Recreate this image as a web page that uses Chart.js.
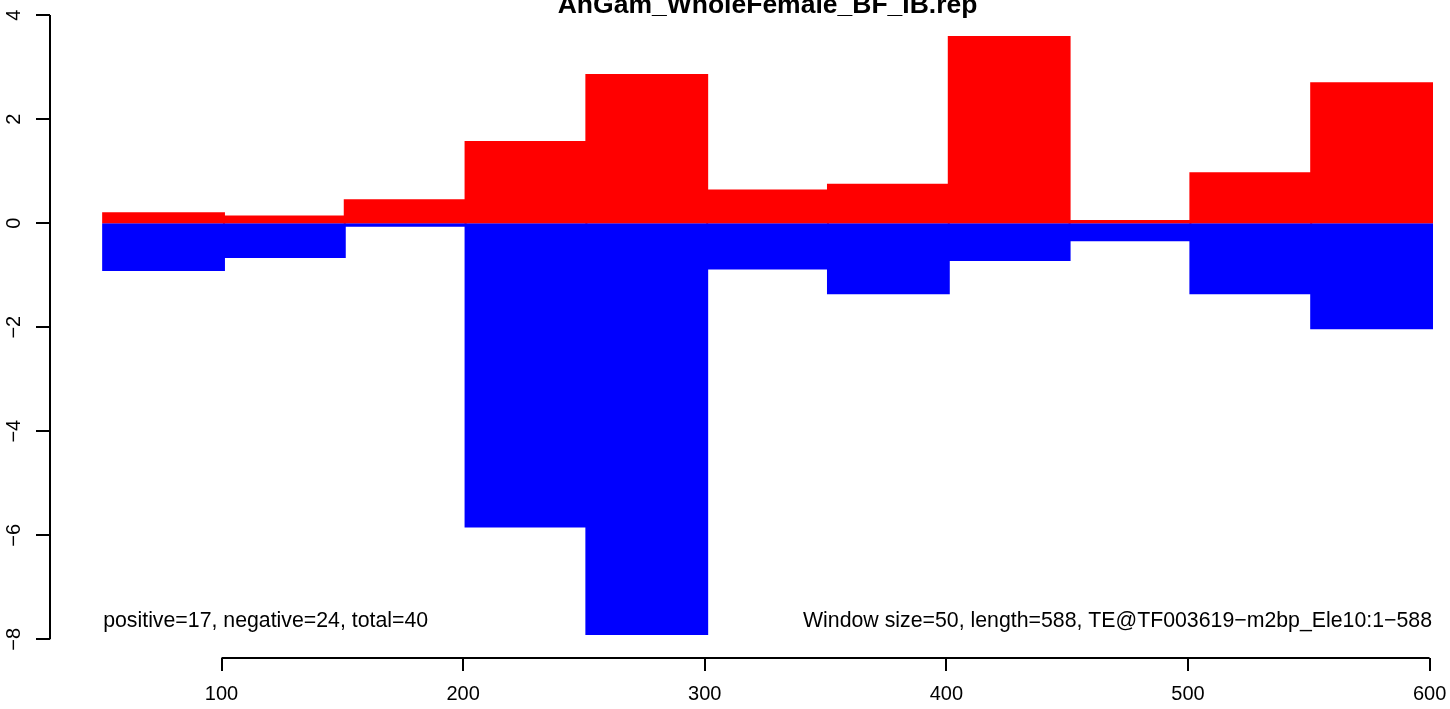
<!DOCTYPE html>
<html>
<head>
<meta charset="utf-8">
<script src="https://cdn.jsdelivr.net/npm/chart.js@4/dist/chart.umd.min.js"></script>
<style>
    html, body { margin: 0; padding: 0; background: #fff; overflow: hidden; }
</style>
</head>
<body>
<canvas id="chart" width="1450" height="709"></canvas>
<script>
// Window data (window size 50)
const windowStarts = [51, 101, 151, 201, 251, 301, 351, 401, 451, 501, 551];
const positiveValues = [0.19, 0.13, 0.44, 1.56, 2.85, 0.63, 0.74, 3.58, 0.04, 0.96, 2.69];
const negativeValues = [-0.90, -0.65, -0.05, -5.83, -7.90, -0.87, -1.35, -0.71, -0.33, -1.35, -2.02];
const windowSize = 50;

// Axis ticks
const xTicks = [100, 200, 300, 400, 500, 600];
const yTicks = [-8, -6, -4, -2, 0, 2, 4];

const titleText = 'AnGam_WholeFemale_BF_IB.rep';
const leftNote = 'positive=17, negative=24, total=40';
const rightNote = 'Window size=50, length=588, TE@TF003619\u2212m2bp_Ele10:1\u2212588';

const FONT = '"Liberation Sans", Arial, Helvetica, sans-serif';

const centers = windowStarts.map(s => s + windowSize / 2);

// Axis lines, rotated y labels, title and notes (R base-graphics look)
const rAxesPlugin = {
    id: 'rAxes',
    afterDraw(chart) {
        const ctx = chart.ctx;
        const xs = chart.scales.x;
        const ys = chart.scales.y;
        const area = chart.chartArea;

        ctx.save();
        ctx.strokeStyle = '#000';
        ctx.lineWidth = 2;
        ctx.beginPath();
        ctx.moveTo(xs.getPixelForValue(xTicks[0]), area.bottom);
        ctx.lineTo(xs.getPixelForValue(xTicks[xTicks.length - 1]), area.bottom);
        ctx.moveTo(area.left, ys.getPixelForValue(yTicks[0]));
        ctx.lineTo(area.left, ys.getPixelForValue(yTicks[yTicks.length - 1]));
        ctx.stroke();

        // y tick labels, reading bottom to top
        ctx.fillStyle = '#000';
        ctx.font = '20px ' + FONT;
        ctx.textAlign = 'center';
        ctx.textBaseline = 'middle';
        yTicks.forEach(v => {
            ctx.save();
            ctx.translate(14, ys.getPixelForValue(v));
            ctx.rotate(-Math.PI / 2);
            ctx.fillText(v < 0 ? '\u2212' + Math.abs(v) : String(v), 0, 0);
            ctx.restore();
        });

        // title (clipped at the top as in the reference)
        const midX = (xs.getPixelForValue(windowStarts[0] - 22) + xs.getPixelForValue(windowStarts[windowStarts.length - 1] + windowSize + 22)) / 2;
        ctx.font = 'bold 26.5px ' + FONT;
        ctx.textBaseline = 'alphabetic';
        ctx.fillText(titleText, midX, 13);

        // notes
        ctx.font = '21.3px ' + FONT;
        ctx.textAlign = 'left';
        ctx.fillText(leftNote, xs.getPixelForValue(windowStarts[0]), area.bottom - 31);
        ctx.textAlign = 'right';
        ctx.fillText(rightNote, xs.getPixelForValue(windowStarts[windowStarts.length - 1] + windowSize), area.bottom - 31);
        ctx.restore();
    }
};

const ctx = document.getElementById('chart').getContext('2d');
new Chart(ctx, {
    type: 'bar',
    data: {
        datasets: [
            {
                label: 'positive',
                data: centers.map((c, i) => ({ x: c, y: positiveValues[i] })),
                backgroundColor: '#ff0000',
                borderWidth: 0,
                inflateAmount: 1
            },
            {
                label: 'negative',
                data: centers.map((c, i) => ({ x: c, y: negativeValues[i] })),
                backgroundColor: '#0000ff',
                borderWidth: 0,
                inflateAmount: 1
            }
        ]
    },
    options: {
        responsive: false,
        animation: false,
        devicePixelRatio: 1,
        grouped: false,
        barPercentage: 1,
        categoryPercentage: 1,
        layout: { padding: { top: 13, left: 0, right: 0, bottom: 0 } },
        plugins: {
            legend: { display: false },
            tooltip: { enabled: false }
        },
        scales: {
            x: {
                type: 'linear',
                min: 29,
                max: 608.45,
                offset: false,
                afterBuildTicks: scale => { scale.ticks = xTicks.map(v => ({ value: v })); },
                afterFit: scale => {
                    scale.height = 51;
                    scale.paddingLeft = 0;
                    scale.paddingRight = 0;
                },
                border: { display: false },
                grid: { display: true, offset: false, drawOnChartArea: false, drawTicks: true, tickLength: 13, color: '#000', lineWidth: 2 },
                ticks: { color: '#000', font: { family: FONT, size: 20 }, padding: 11, maxRotation: 0 }
            },
            y: {
                type: 'linear',
                min: -8.36,
                max: 4.04,
                afterBuildTicks: scale => { scale.ticks = yTicks.map(v => ({ value: v })); },
                afterFit: scale => { scale.width = 50; },
                border: { display: false },
                grid: { display: true, drawOnChartArea: false, drawTicks: true, tickLength: 14, color: '#000', lineWidth: 2 },
                ticks: { color: 'rgba(0,0,0,0)', font: { size: 1 }, padding: 0 }
            }
        }
    },
    plugins: [rAxesPlugin]
});
</script>
</body>
</html>
